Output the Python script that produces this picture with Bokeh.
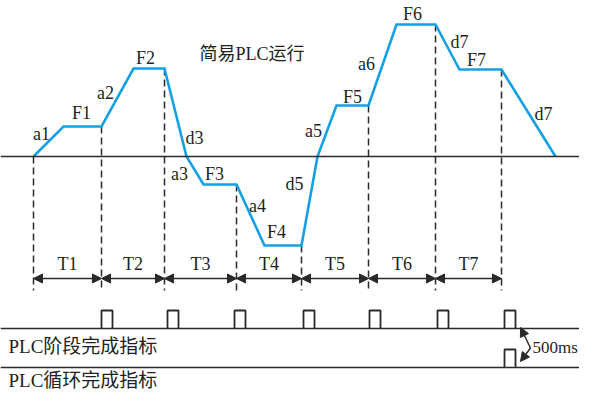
from bokeh.plotting import figure
from bokeh.models import Range1d, Arrow, NormalHead, ColumnDataSource, Span
from bokeh.core.properties import value
from bokeh.embed import file_html
from bokeh.resources import INLINE

# ---- data (time ticks along x, frequency along y; 0 = zero-speed baseline) ----
profile_t = [0, 30, 68, 100, 131, 153, 170, 203, 231, 268, 284, 303, 335, 363, 402, 426, 468, 522]
profile_f = [0, 30, 30, 88, 88, 0, -28, -28, -89, -89, 0, 51, 51, 132, 132, 87, 87, 0]

stage_bounds = [0, 68, 131, 203, 268, 335, 402, 468]
stage_bound_f = [0, 30, 88, -28, -89, 51, 132, 87]
stage_names = ["T1", "T2", "T3", "T4", "T5", "T6", "T7"]

seg_labels = ["a1", "F1", "a2", "F2", "d3", "a3", "F3", "a4", "F4", "d5",
              "a5", "F5", "a6", "F6", "d7", "F7", "d7"]
seg_label_t = [8, 48, 72, 112, 161, 146, 181, 224, 243, 261, 280, 319, 333, 379, 426, 443, 510]
seg_label_f = [23, 44, 64, 99, 19, -17, -17, -49, -75, -27, 26, 60, 93, 143, 115, 97, 43]

stage_pulse_t = [68, 134, 201, 270, 336, 404, 471]
cycle_pulse_t = [471]
pulse_width = 11
pulse_height = 18

title_text = "简易PLC运行"
row_names = ["PLC阶段完成指标", "PLC循环完成指标"]
delay_text = "500ms"

# layout levels
arrow_level = -122
tlabel_level = -107
dash_bottom = -134
row1_level = -172
row2_level = -211

DARK = "#2a2a2a"
BLUE = "#14a0e4"
TXT = "#231f20"
SERIF = value("Liberation Serif, Noto Sans CJK SC")

p = figure(width=579, height=392, output_backend="svg", toolbar_location=None,
           x_range=Range1d(-33, 546), y_range=Range1d(-236, 156),
           min_border=0, min_border_left=0, min_border_right=0,
           min_border_top=0, min_border_bottom=0)
p.xaxis.visible = False
p.yaxis.visible = False
p.grid.visible = False
p.outline_line_color = None
p.background_fill_color = "white"
p.border_fill_color = "white"

# baselines
for lvl in (0, row1_level, row2_level):
    p.add_layout(Span(location=lvl, dimension="width", line_color=DARK, line_width=1.6))

# dashed stage boundaries
p.segment(x0=stage_bounds, y0=stage_bound_f, x1=stage_bounds,
          y1=[dash_bottom] * len(stage_bounds),
          line_color=DARK, line_width=1.5, line_dash="7 4")

# speed profile
p.line(profile_t, profile_f, line_color=BLUE, line_width=2.6, line_join="miter")

# segment labels
p.text(x=seg_label_t, y=seg_label_f, text=seg_labels, text_font=SERIF,
       text_font_size="18px", text_align="center", text_baseline="middle",
       text_color=TXT)

# title
p.text(x=[166], y=[103], text=[title_text], text_font=SERIF, text_font_size="18px",
       text_align="left", text_baseline="middle", text_color=TXT)

# T arrows
src = ColumnDataSource(dict(x0=stage_bounds[:-1], x1=stage_bounds[1:],
                            y=[arrow_level] * (len(stage_bounds) - 1)))
p.add_layout(Arrow(x_start="x0", y_start="y", x_end="x1", y_end="y", source=src,
                   line_color=DARK, line_width=1.5,
                   start=NormalHead(size=9, fill_color=DARK, line_color=DARK, line_width=1),
                   end=NormalHead(size=9, fill_color=DARK, line_color=DARK, line_width=1)))
mid = [(a + b) / 2 for a, b in zip(stage_bounds[:-1], stage_bounds[1:])]
p.text(x=mid, y=[tlabel_level] * len(mid), text=stage_names, text_font=SERIF,
       text_font_size="18px", text_align="center", text_baseline="middle",
       text_color=TXT)

# pulses
def pulses(ts, base):
    xs = [[t, t, t + pulse_width, t + pulse_width] for t in ts]
    ys = [[base, base + pulse_height, base + pulse_height, base] for _ in ts]
    return xs, ys

xs, ys = pulses(stage_pulse_t, row1_level)
p.multi_line(xs, ys, line_color=DARK, line_width=1.8)
xs, ys = pulses(cycle_pulse_t, row2_level)
p.multi_line(xs, ys, line_color=DARK, line_width=1.8)

# row labels
p.text(x=[-25], y=[row1_level - 18], text=[row_names[0]], text_font=SERIF,
       text_font_size="19px", text_align="left", text_baseline="middle",
       text_color=TXT)
p.text(x=[-25], y=[row2_level - 13], text=[row_names[1]], text_font=SERIF,
       text_font_size="19px", text_align="left", text_baseline="middle",
       text_color=TXT)

# 500ms indicator
apex_t, apex_f = 497, (row1_level + row2_level) / 2
tip_t = cycle_pulse_t[0] + pulse_width + 5
src2 = ColumnDataSource(dict(x0=[apex_t, apex_t], y0=[apex_f, apex_f],
                             x1=[tip_t, tip_t], y1=[row1_level + 1, row2_level + 6]))
p.add_layout(Arrow(x_start="x0", y_start="y0", x_end="x1", y_end="y1", source=src2,
                   line_color=DARK, line_width=1.5,
                   end=NormalHead(size=9, fill_color=DARK, line_color=DARK, line_width=1)))
p.text(x=[apex_t + 2], y=[apex_f + 1], text=[delay_text], text_font=SERIF,
       text_font_size="17px", text_align="left", text_baseline="middle",
       text_color=TXT)

open("out.html", "w").write(file_html(p, INLINE))
